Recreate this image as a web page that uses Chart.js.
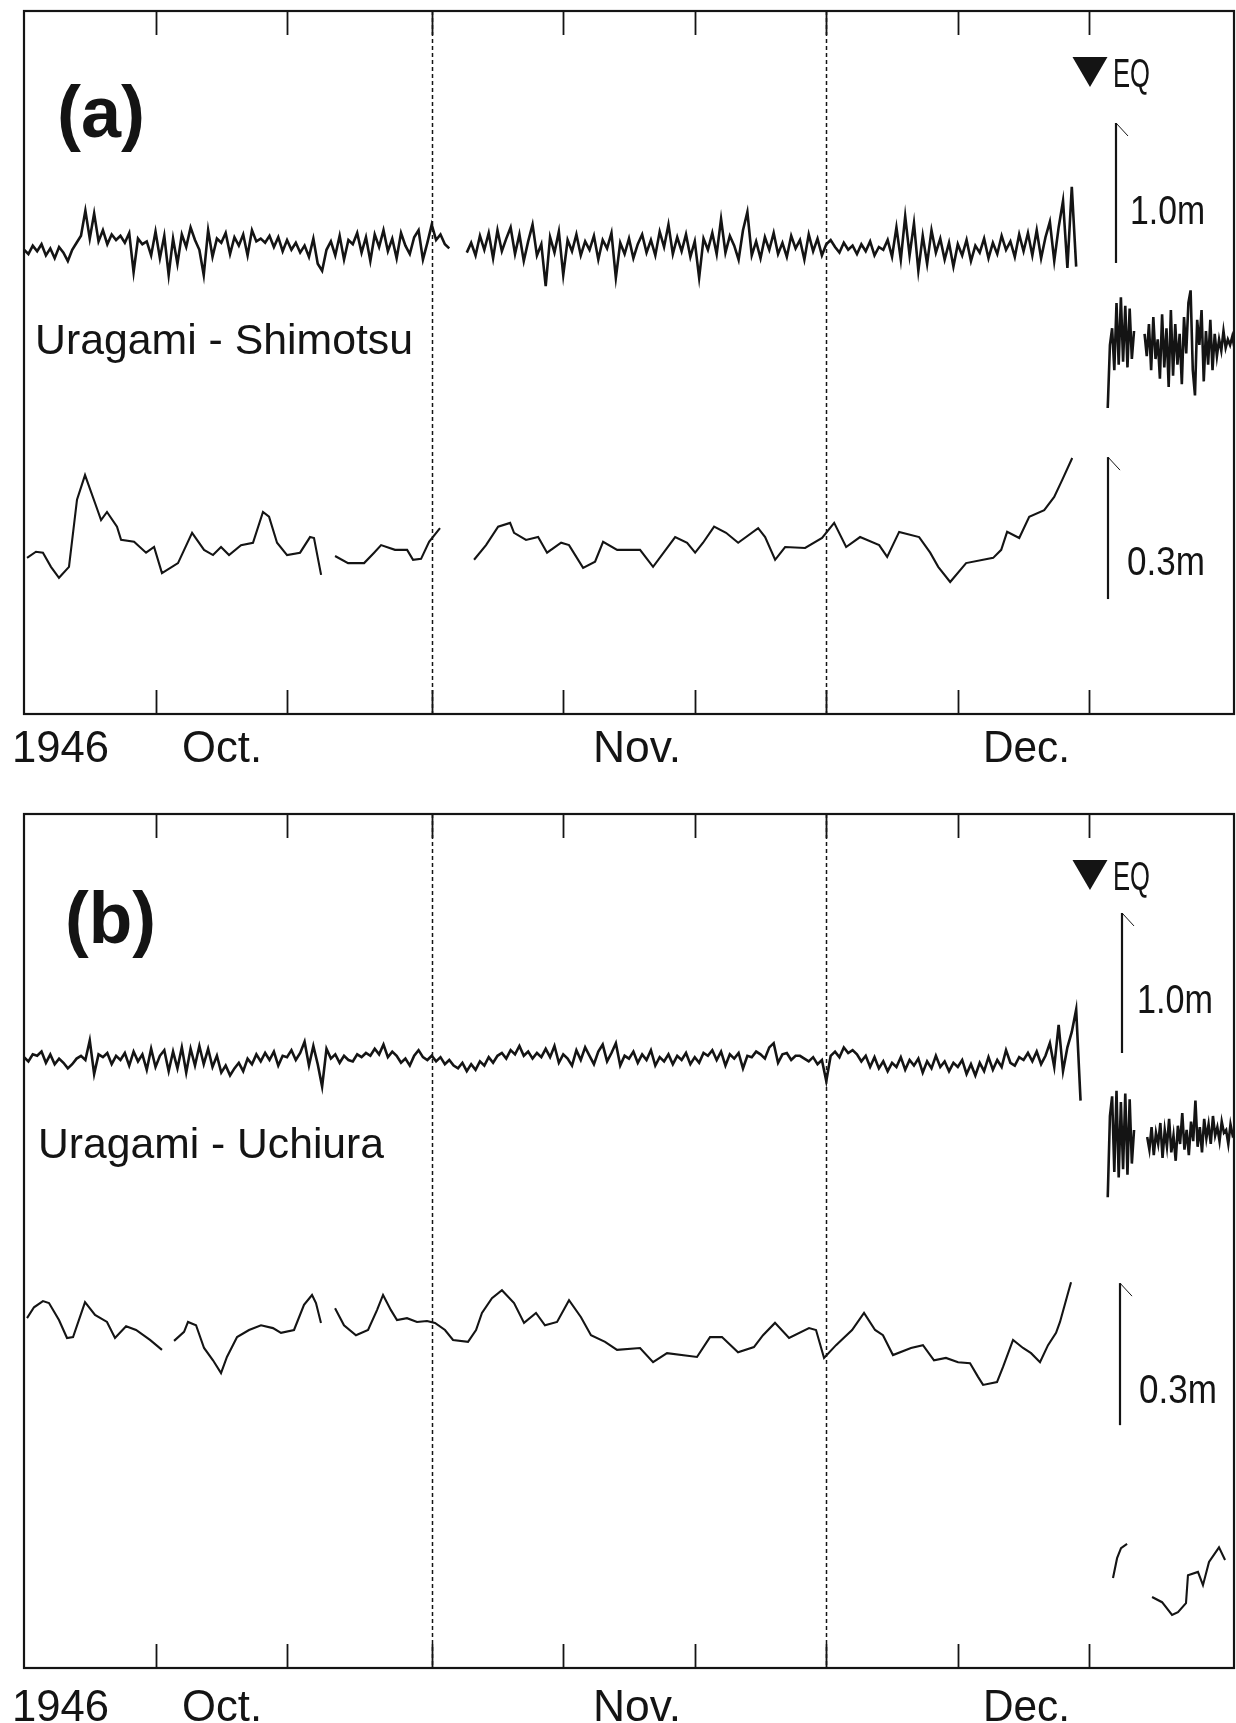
<!DOCTYPE html>
<html>
<head>
<meta charset="utf-8">
<script src="https://cdn.jsdelivr.net/npm/chart.js@4.4.1/dist/chart.umd.min.js"></script>
<style>
  html, body { margin: 0; padding: 0; background: #fff; }
  #wrap { position: relative; width: 1236px; height: 1723px; overflow: hidden; }
  #wrap canvas { position: absolute; left: 0; }
</style>
</head>
<body>
<div id="wrap">
  <canvas id="chartA" width="1236" height="780" style="top:0px"></canvas>
  <canvas id="chartB" width="1236" height="943" style="top:780px"></canvas>
</div>
<script>
// x axis: days since 1 Oct 1946 (0 = Oct 1, 31 = Nov 1, 61 = Dec 1, 92 = Jan 1)
const STEP = 1 / 3;              // raw records before the quake, one value every 8 h
const POST_STEP = 1 / 6;         // after the quake, one value every 4 h
const tickDays = [10, 20, 31, 41, 51, 61, 71, 81];
const monthStartDays = [31, 61];
const eqDay = 81.05;
const axisLabels = ['1946', 'Oct.', 'Nov.', 'Dec.'];

// ---- (a) Uragami - Shimotsu : raw record, cm ----
const rawA_start1 = 0;
const rawA_part1 = [
  -2,-5,1, -3,2,-6, -1,-8,0, -4,-10,-2, 3,8,26, 6,24,4, 12,2,9, 5,8,3, 10,-18,6, 2,4,-6,
  11,-8,8, -20,6,-12, 9,0,14, 5,-2,-20, 12,-7,6, 3,10,-5, 7,1,9, -6,12,4, 6,3,8, 0,7,-3,
  5,-2,3, -4,1,-7, 6,-12,-17, -2,4,-6, 8,-9,5, 2,10,-4, 7,-10,9, 0,12,-3, 6,-8,10, 1,-5,7,
  12,-9,3, 16,5,9, 2,-1
];
const rawA_start2 = 33 + 2 / 3;
const rawA_part2 = [
  -4,
  3,-6,8, -2,10,-8, 12,-3,6, 14,-5,9, -10,4,16, -6,2,-28,
  7,-4,11, -20,5,-3, 9,-6,4, -2,8,-9, 5,-1,10, -22,3,-5, 6,-8,2, 9,-4,5, -6,11,0, 16,-5,7,
  -3,9,-7, 4,-22,6, -2,10,-5, 20,-4,8, 1,-9,12, 25,-6,4, -8,7,-2, 10,-5,3, -7,8,-1, 5,-9,9,
  -3,6,-6, 2,5,0, -4,3,-2, 1,-5,2, -3,4,-6, 0,-2,5, -7,14,-9, 22,-6,17, -17,8,-12, 12,-4,6,
  -9,3,-14, 2,-6,5, -10,1,-4, 6,-8,3, -5,8,-2, 4,-7,9, -3,10,-6, 12,-8,7, 18,-10,14, 33,-15,43,
  -14
];
const rawA_postStart1 = 82.4;
const rawA_post1 = [-115,-70,-58,-88,-40,-84,-36,-82,-42,-86,-44,-80,-60];
const rawA_postStart2 = 85.2;
const rawA_post2 = [
  -62,-78,-55,-88,-50,-80,-66,-94,-48,-86, -58,-100,-45,-92,-55,-84,-62,-98,-50,-76,
  -40,-31,-88,-106,-52,-70,-45,-96,-60,-84, -52,-88,-62,-78,-66,-74,-60,-72,-66,-70,
  -64,-72,-68
];

// ---- (a) filtered record, cm (null = gap) ----
const lowA_day = [
  0.23,0.91,1.44,2.05,2.66,3.42,4.03,4.64,5.40,5.86,6.31,7.07,7.38,8.37,9.28,9.89,10.49,11.71,12.78,13.69,
  14.37,14.98,15.59,16.50,17.41,18.17,18.63,19.24,20.0,20.99,21.75,22.05,22.59, 23.1,
  23.65,24.64,25.86,26.62,27.15,28.21,29.13,29.58,30.19,30.80,31.63, 33.0,
  34.22,35.13,36.05,36.96,37.26,38.17,39.09,39.77,40.84,41.44,42.51,43.42,44.03,45.10,46.84,47.83,49.51,50.42,
  51.03,51.63,52.47,53.38,54.30,55.82,56.35,57.11,57.87,59.39,60.68,61.60,62.51,63.57,65.02,65.63,66.54,68.06,
  68.90,69.51,70.42,71.63,73.69,74.30,74.75,75.67,76.43,77.57,78.33,78.94,79.70
];
const lowA_cm = [
  -1.9,-0.6,-0.8,-3.8,-6.1,-3.8,10.4,15.6,9.7,6.1,7.8,4.7,1.9,1.5,-0.8,0.4,-5.1,-3.0,3.4,-0.2,
  -1.3,0.4,-1.3,0.8,1.3,7.8,6.8,1.3,-1.3,-0.8,2.5,2.3,-5.5, null,
  -1.5,-3.0,-3.0,-0.8,0.8,-0.2,-0.2,-2.3,-2.1,1.5,4.4, null,
  -2.3,0.8,4.7,5.5,3.4,1.9,2.5,-0.8,1.3,0.8,-4.0,-2.7,1.5,-0.2,-0.2,-3.8,2.5,1.3,
  -0.8,1.3,4.7,3.4,1.3,4.4,2.5,-2.3,0.4,0.2,2.3,5.5,0.4,2.5,0.8,-1.7,3.6,2.5,
  -0.8,-3.8,-7.0,-3.0,-1.9,-0.2,3.6,2.3,6.8,8.2,11.0,14.6,19.2
];

// ---- (b) Uragami - Uchiura : raw record, cm ----
const rawB_start = 0;
const rawB = [
  2,-1,4, 3,6,-2, 4,-3,1, -2,-6,-3, 1,3,0, 14,-10,4, 2,5,-3, 3,0,5, -4,6,-1, 4,-7,8,
  -5,3,7, -8,6,-6, 9,-9,8, -4,10,-3, 8,-5,3, -9,-4,-11, -6,-2,-8, 1,-3,4, -1,5,0, 6,-4,3,
  2,7,0, 5,13,-4, 10,-3,-19, 8,1,4, -2,3,0, -1,4,2, 5,3,8, 4,11,2, 6,3,-2, 1,-4,3,
  7,2,0, 3,-1,2, -3,0,-4, -6,-2,-8, -3,-7,-1, -4,2,-2, 3,5,1, 7,4,10, 3,6,1, 5,2,8,
  2,10,-2, 4,1,-4, 7,0,9, 3,-3,6, 11,-1,5, 12,-4,3, 1,6,-2, 4,0,7, -4,2,-1, 4,-3,3,
  0,5,-3, 2,-2,5, 3,7,0, 6,-4,4, 1,5,-6, 3,2,6, 4,1,9, 12,-2,4, 5,0,3, 3,1,-1,
  2,-3,0, -15,3,6, 2,9,5, 7,4,-1, 3,-5,2, -6,-1,-8, -2,-5,2, -7,0,-4, 1,-9,-1, -6,3,-5,
  -1,-8,-2, -5,0,-10, -3,-11,-2, -8,2,-7, 0,-5,7, -2,-4,2, 0,5,-1, 6,-3,3, 12,-5,25, -8,9,20,
  36,-29
];
const rawB_postStart1 = 82.4;
const rawB_post1 = [-98,-40,-26,-80,-22,-84,-30,-78,-24,-82,-28,-74,-50];
const rawB_postStart2 = 85.4;
const rawB_post2 = [
  -55,-64,-48,-68,-52,-60,-45,-70,-50,-62, -42,-66,-54,-72,-47,-60,-38,-64,-50,-68,
  -44,-58,-29,-62,-48,-66,-42,-56,-46,-60, -40,-54,-48,-58,-44,-52,-50,-60,-46,-54,
  -52,-50
];

// ---- (b) filtered record, cm (null = gap) ----
const lowB_day = [
  0.23,0.76,1.44,1.90,2.66,3.27,3.73,4.64,5.40,6.31,6.92,7.76,8.52,9.58,10.49, 10.95,
  11.41,12.17,12.47,13.08,13.69,14.37,14.98,15.43,16.20,17.11,18.02,18.93,19.54,20.53,21.29,21.90,22.20,22.58, 23.1,
  23.65,24.33,25.24,26.16,26.84,27.30,27.90,28.36,29.12,29.88,30.64,31.25,32.01,32.62,33.76,34.37,34.82,35.58,
  36.34,37.26,38.02,38.93,39.61,40.53,41.44,42.35,43.11,44.18,45.09,46.84,47.83,48.89,51.17,52.16,53.07,54.29,
  55.50,56.19,57.10,58.17,59.69,60.22,60.83,61.74,62.96,63.87,64.71,65.31,66.07,67.44,68.35,69.19,70.10,71.02,
  71.93,72.54,72.92,73.98,74.44,75.20,75.96,76.57,77.25,77.86,78.47,78.77,79.38,79.61
];
const lowB_cm = [
  0.4,2.7,4.0,3.6,0,-3.8,-3.6,3.8,1.1,-0.4,-3.8,-1.3,-2.1,-4.2,-6.3, null,
  -4.4,-2.5,-0.4,-1.1,-5.9,-8.5,-11.2,-7.8,-3.6,-2.1,-1.1,-1.7,-2.7,-2.1,3.2,5.3,3.6,-0.6, null,
  2.5,-1.1,-3.2,-2.1,2.1,5.3,2.1,0,0.4,-0.4,-0.2,-0.6,-2.1,-4.2,-4.6,-2.1,1.5,4.6,
  6.3,3.6,-0.6,1.5,-1.1,-0.4,4.2,0.6,-3.2,-4.6,-6.3,-5.9,-8.9,-7.0,-7.8,-3.6,-3.6,-6.8,
  -5.7,-3.2,-0.6,-3.8,-1.7,-2.1,-8.0,-5.3,-2.1,1.5,-2.1,-3.2,-7.4,-5.9,-5.3,-8.5,-8.0,-8.9,
  -9.1,-12.0,-13.7,-13.1,-9.9,-4.2,-5.9,-7.0,-8.9,-5.3,-2.7,-0.4,5.7,8.0
];
const lowB_postDay = [82.80,83.11,83.41,83.87, 84.8, 85.77,86.53,87.29,87.74,88.35,88.50,89.26,89.64,90.10,90.86,91.32];
const lowB_postCm = [-54.5,-50.3,-48.2,-47.3, null, -58.5,-59.6,-62.3,-61.7,-59.8,-53.9,-53.2,-56.0,-51.1,-48.0,-50.7];

const INK = '#141414';
const FONT = '"Liberation Sans", Arial, Helvetica, sans-serif';
const NARROW = '"Liberation Sans Narrow", "Arial Narrow", "Liberation Sans", sans-serif';
const RAW_W = 2.6;
const LOW_W = 2.1;

function regular(values, start, step) {
  return values.map((v, i) => ({ x: start + i * step, y: v }));
}
function paired(days, vals) {
  return days.map((d, i) => ({ x: d, y: vals[i] }));
}
function trace(data, axis, width) {
  return {
    data: data, yAxisID: axis, borderColor: INK, borderWidth: width,
    pointRadius: 0, tension: 0, spanGaps: false, fill: false
  };
}

function fitText(ctx, str, x, y, font, width) {
  ctx.font = font;
  const w = ctx.measureText(str).width;
  ctx.save();
  ctx.translate(x, y);
  ctx.scale(width ? width / w : 1, 1);
  ctx.fillText(str, 0, 0);
  ctx.restore();
}

const decoPlugin = {
  id: 'deco',
  afterDraw(chart, args, o) {
    const ctx = chart.ctx, a = chart.chartArea, xs = chart.scales.x;
    const off = o.top;
    ctx.save();
    ctx.strokeStyle = INK;
    ctx.fillStyle = INK;
    ctx.textBaseline = 'alphabetic';

    // month boundaries
    ctx.lineWidth = 1.5;
    ctx.setLineDash([4, 3]);
    monthStartDays.forEach(d => {
      const px = Math.round(xs.getPixelForValue(d)) + 0.5;
      ctx.beginPath(); ctx.moveTo(px, a.top); ctx.lineTo(px, a.bottom); ctx.stroke();
    });
    ctx.setLineDash([]);

    // inward ticks top and bottom
    ctx.lineWidth = 1.8;
    tickDays.forEach(d => {
      const px = Math.round(xs.getPixelForValue(d)) + 0.5;
      ctx.beginPath();
      ctx.moveTo(px, a.top); ctx.lineTo(px, a.top + 24);
      ctx.moveTo(px, a.bottom); ctx.lineTo(px, a.bottom - 24);
      ctx.stroke();
    });

    // frame
    ctx.lineWidth = 2.2;
    ctx.strokeRect(a.left, a.top, a.right - a.left, a.bottom - a.top);

    // earthquake marker
    const ex = xs.getPixelForValue(eqDay);
    const ty = o.eqTop - off;
    ctx.beginPath();
    ctx.moveTo(ex - 17.5, ty); ctx.lineTo(ex + 17.5, ty); ctx.lineTo(ex, ty + 30);
    ctx.closePath(); ctx.fill();
    fitText(ctx, 'EQ', ex + 23, ty + 30, '40px ' + NARROW, 37);

    // scale bars
    o.bars.forEach(b => {
      const sc = chart.scales[b.axis];
      const y0 = sc.getPixelForValue(b.from), y1 = sc.getPixelForValue(b.from + b.len);
      ctx.lineWidth = 2.2;
      ctx.beginPath(); ctx.moveTo(b.x, y0); ctx.lineTo(b.x, y1); ctx.stroke();
      ctx.lineWidth = 1;
      ctx.beginPath(); ctx.moveTo(b.x, y1); ctx.lineTo(b.x + 12, y1 + 13); ctx.stroke();
      fitText(ctx, b.label, b.tx, b.ty - off, '40px ' + NARROW, b.tw);
    });

    // panel letter and station pair
    fitText(ctx, o.letter, o.letterX, o.letterY - off, 'bold 72px ' + FONT, o.letterW);
    fitText(ctx, o.title, o.titleX, o.titleY - off, '43px ' + FONT, o.titleW);

    // date labels under the frame
    axisLabels.forEach((t, i) => {
      fitText(ctx, t, o.labelX[i], o.labelY - off, '44px ' + FONT, o.labelW[i]);
    });
    ctx.restore();
  }
};

function makeChart(id, datasets, yRaw, yLow, pad, deco) {
  return new Chart(document.getElementById(id), {
    type: 'line',
    data: { datasets: datasets },
    options: {
      responsive: false,
      animation: false,
      events: [],
      layout: { padding: pad },
      plugins: { legend: { display: false }, tooltip: { enabled: false }, deco: deco },
      scales: {
        x: { type: 'linear', min: 0, max: 92, display: false },
        yRaw: { type: 'linear', min: yRaw[0], max: yRaw[1], display: false },
        yLow: { type: 'linear', min: yLow[0], max: yLow[1], display: false }
      }
    },
    plugins: [decoPlugin]
  });
}

makeChart('chartA', [
  trace(regular(rawA_part1, rawA_start1, STEP), 'yRaw', RAW_W),
  trace(regular(rawA_part2, rawA_start2, STEP), 'yRaw', RAW_W),
  trace(regular(rawA_post1, rawA_postStart1, POST_STEP), 'yRaw', RAW_W),
  trace(regular(rawA_post2, rawA_postStart2, POST_STEP), 'yRaw', RAW_W),
  trace(paired(lowA_day, lowA_cm), 'yLow', LOW_W)
], [-333.6, 168.6], [-34.9, 113.7],
{ left: 24, right: 2, top: 11, bottom: 66 },
{
  top: 0, eqTop: 57,
  bars: [
    { axis: 'yRaw', from: -11.4, len: 100, x: 1116, label: '1.0m', tx: 1130, ty: 224, tw: 75 },
    { axis: 'yLow', from: -10.6, len: 30, x: 1108, label: '0.3m', tx: 1127, ty: 575, tw: 78 }
  ],
  letter: '(a)', letterX: 57, letterY: 137, letterW: 88,
  title: 'Uragami - Shimotsu', titleX: 35, titleY: 354, titleW: 378,
  labelX: [12, 182, 593, 983], labelW: [97, 80, 88, 87], labelY: 762
});

makeChart('chartB', [
  trace(regular(rawB, rawB_start, STEP), 'yRaw', RAW_W),
  trace(regular(rawB_post1, rawB_postStart1, POST_STEP), 'yRaw', RAW_W),
  trace(regular(rawB_post2, rawB_postStart2, POST_STEP), 'yRaw', RAW_W),
  trace(paired(lowB_day, lowB_cm), 'yLow', LOW_W),
  trace(paired(lowB_postDay, lowB_postCm), 'yLow', LOW_W)
], [-434.3, 175.7], [-73.5, 106.9],
{ left: 24, right: 2, top: 34, bottom: 55 },
{
  top: 780, eqTop: 860,
  bars: [
    { axis: 'yRaw', from: 5, len: 100, x: 1122, label: '1.0m', tx: 1137, ty: 1013, tw: 76 },
    { axis: 'yLow', from: -22.2, len: 30, x: 1120, label: '0.3m', tx: 1139, ty: 1403, tw: 78 }
  ],
  letter: '(b)', letterX: 65, letterY: 943, letterW: 91,
  title: 'Uragami - Uchiura', titleX: 38, titleY: 1158, titleW: 346,
  labelX: [12, 182, 593, 983], labelW: [97, 80, 88, 87], labelY: 1721
});
</script>
</body>
</html>
